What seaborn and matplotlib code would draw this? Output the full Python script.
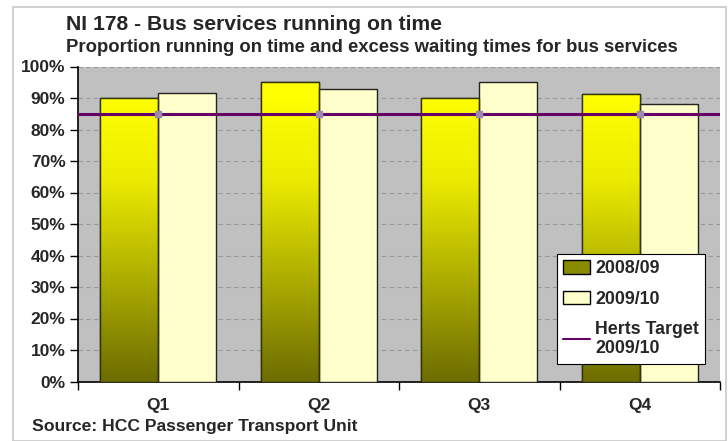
import numpy as np
import pandas as pd
import matplotlib
matplotlib.use("Agg")
import matplotlib.pyplot as plt
import seaborn as sns
from matplotlib.ticker import FixedLocator, PercentFormatter
from matplotlib.patches import Rectangle, Patch
from matplotlib.lines import Line2D

quarters = ["Q1", "Q2", "Q3", "Q4"]
series_0809 = [90.0, 95.0, 90.0, 91.2]
series_0910 = [91.5, 93.0, 95.0, 88.0]
target_0910 = [85.0, 85.0, 85.0, 85.0]
series_names = ["2008/09", "2009/10"]
target_name = "Herts Target\n2009/10"

sns.set_theme(style="white")
plt.rcParams["font.family"] = ["Liberation Sans", "DejaVu Sans"]
plt.rcParams["font.weight"] = "bold"

df = pd.DataFrame({
    "Quarter": quarters * 2,
    "Value": series_0809 + series_0910,
    "Year": [series_names[0]] * 4 + [series_names[1]] * 4,
})

fig = plt.figure(figsize=(7.28, 4.41), dpi=100)
fig.patches.append(Rectangle((13 / 728, 0.0), (726 - 13) / 728, (441 - 6.5) / 441,
                             transform=fig.transFigure, fill=False,
                             edgecolor="#c8c8c8", lw=1.2))
ax = fig.add_axes([78 / 728, 1 - 381.5 / 441, (720 - 78) / 728, (381.5 - 66.5) / 441])
ax.set_facecolor("#C0C0C0")

sns.barplot(data=df, x="Quarter", y="Value", hue="Year",
            palette=["#FFFF00", "#FFFFCC"], width=0.72, gap=0,
            edgecolor="#222222", linewidth=1.0, saturation=1, ax=ax,
            legend=False, zorder=3)

ax.set_ylim(0, 100)
ax.set_xlim(-0.5, 3.5)

# gradient on 2008/09 bars
stops_v = np.array([0, 26, 64, 90, 100])
stops_c = np.array([108, 160, 235, 255, 255])
yy = np.linspace(0, 100, 256)
g = np.interp(yy, stops_v, stops_c) / 255.0
img = np.zeros((256, 1, 3))
img[:, 0, 0] = g
img[:, 0, 1] = g
patches = list(ax.patches)
n = len(quarters)
for p in patches[:n]:
    x0 = p.get_x()
    w = p.get_width()
    h = p.get_height()
    im = ax.imshow(img, extent=[x0, x0 + w, 0, 100], origin="lower",
                   aspect="auto", zorder=3.5)
    im.set_clip_path(p)
    ax.add_patch(Rectangle((x0, 0), w, h, fill=False, edgecolor="#333300",
                           lw=1.0, zorder=4))
for p in patches[n:2 * n]:
    p.set_zorder(4)

# target line
ax.axhline(target_0910[0], color="#660066", lw=2.2, zorder=5)
ax.plot(range(len(quarters)), target_0910, ls="none", marker="s",
        markersize=5, color="#9a8ab0", zorder=5.5)

# grid
ax.yaxis.set_major_locator(FixedLocator(np.arange(0, 101, 10)))
ax.yaxis.set_major_formatter(PercentFormatter(decimals=0))
ax.grid(axis="y", color="#999999", ls=(0, (4, 3)), lw=0.8, zorder=1)
ax.set_axisbelow(True)

for s in ["top", "right"]:
    ax.spines[s].set_visible(False)
for s in ["left", "bottom"]:
    ax.spines[s].set_color("black")
    ax.spines[s].set_linewidth(1.2)

ax.set_xticks(range(len(quarters)))
ax.set_xticklabels(quarters)
ax.set_xticks(np.arange(-0.5, len(quarters), 1.0), minor=True)
ax.tick_params(axis="x", which="major", length=0, pad=12, labelsize=12.5)
ax.tick_params(axis="x", which="minor", length=6, width=1, color="black",
               direction="out", bottom=True)
ax.tick_params(axis="y", length=6, width=1, color="black", direction="out",
               left=True, labelsize=12.5, pad=3)
for lab in ax.get_xticklabels() + ax.get_yticklabels():
    lab.set_fontweight("bold")
ax.set_xlabel("")
ax.set_ylabel("")

# titles
fig.text(66 / 728, 1 - 25 / 441, "NI 178 - Bus services running on time",
         fontsize=15.2, fontweight="bold", va="center", ha="left")
fig.text(66 / 728, 1 - 47 / 441,
         "Proportion running on time and excess waiting times for bus services",
         fontsize=13.3, fontweight="bold", va="center", ha="left")
fig.text(32 / 728, 1 - 427 / 441, "Source: HCC Passenger Transport Unit",
         fontsize=12.6, fontweight="bold", va="center", ha="left")

# legend
handles = [
    Patch(facecolor="#8a8a00", edgecolor="black", label=series_names[0]),
    Patch(facecolor="#FFFFCC", edgecolor="black", label=series_names[1]),
    Line2D([0], [0], color="#660066", lw=1.5, label=target_name),
]
leg = ax.legend(handles=handles, loc="upper left",
                bbox_to_anchor=((557 - 78) / 642, (381.5 - 254) / 315),
                frameon=True, fancybox=False, edgecolor="black",
                facecolor="white", framealpha=1,
                prop={"weight": "bold", "size": 12.8}, handlelength=1.5,
                handleheight=0.8, labelspacing=0.75, borderpad=0.35,
                handletextpad=0.3, borderaxespad=0)
leg.get_frame().set_linewidth(0.8)
leg.set_zorder(10)

fig.savefig("out.png", dpi=100)
